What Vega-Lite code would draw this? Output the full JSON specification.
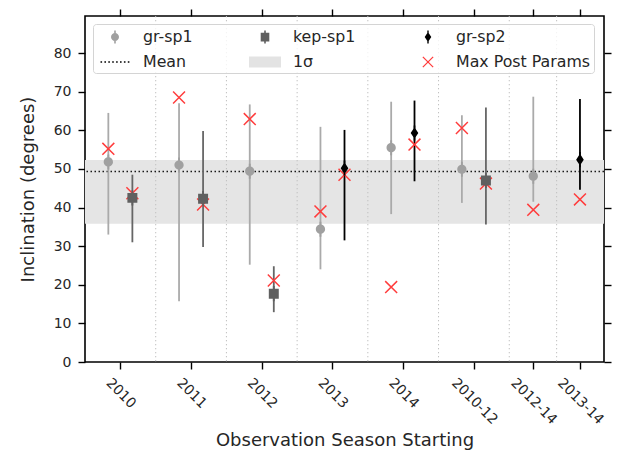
{
  "$schema": "https://vega.github.io/schema/vega-lite/v6.json",
  "width": 519,
  "height": 346,
  "autosize": {"type": "none"},
  "padding": {"left": 85, "top": 16, "right": 13, "bottom": 92},
  "background": "white",
  "config": {
    "view": {"stroke": "#000", "strokeWidth": 1.6},
    "font": "DejaVu Sans",
    "axis": {
      "domain": false, "grid": false, "tickColor": "#000", "tickWidth": 1.4, "tickSize": 7,
      "labelFont": "DejaVu Sans", "labelFontSize": 14, "labelColor": "#262626",
      "labelFlush": false, "labelOverlap": false,
      "titleFont": "DejaVu Sans", "titleFontSize": 18, "titleFontWeight": "normal", "titleColor": "#262626"
    },
    "legend": {
      "orient": "none", "legendX": 8, "legendY": 8, "columns": 3, "title": null,
      "symbolSize": 400, "symbolStrokeWidth": 0, "symbolOffset": 9, "labelOffset": 18,
      "labelFont": "DejaVu Sans", "labelFontSize": 15.8, "labelColor": "#262626",
      "columnPadding": 53, "rowPadding": 7, "padding": 3,
      "fillColor": "rgba(255,255,255,0.8)", "strokeColor": "#d4d4d4", "cornerRadius": 3
    }
  },
  "datasets": {
    "pts": [
      {"series": "gr-sp1", "season": "2010", "x": -0.17, "y": 51.8, "lo": 33.0, "hi": 64.5},
      {"series": "gr-sp1", "season": "2011", "x": 0.83, "y": 51.0, "lo": 15.7, "hi": 67.0},
      {"series": "gr-sp1", "season": "2012", "x": 1.83, "y": 49.4, "lo": 25.2, "hi": 66.7},
      {"series": "gr-sp1", "season": "2013", "x": 2.83, "y": 34.4, "lo": 24.0, "hi": 60.9},
      {"series": "gr-sp1", "season": "2014", "x": 3.83, "y": 55.5, "lo": 38.3, "hi": 67.4},
      {"series": "gr-sp1", "season": "2010-12", "x": 4.83, "y": 49.9, "lo": 41.2, "hi": 63.9},
      {"series": "gr-sp1", "season": "2012-14", "x": 5.84, "y": 48.1, "lo": 41.5, "hi": 68.7},
      {"series": "kep-sp1", "season": "2010", "x": 0.17, "y": 42.5, "lo": 31.0, "hi": 48.5},
      {"series": "kep-sp1", "season": "2011", "x": 1.17, "y": 42.3, "lo": 29.8, "hi": 59.8},
      {"series": "kep-sp1", "season": "2012", "x": 2.17, "y": 17.7, "lo": 12.9, "hi": 24.8},
      {"series": "kep-sp1", "season": "2010-12", "x": 5.17, "y": 47.0, "lo": 35.6, "hi": 65.9},
      {"series": "gr-sp2", "season": "2013", "x": 3.17, "y": 50.2, "lo": 31.5, "hi": 60.1},
      {"series": "gr-sp2", "season": "2014", "x": 4.16, "y": 59.3, "lo": 46.8, "hi": 67.7},
      {"series": "gr-sp2", "season": "2013-14", "x": 6.5, "y": 52.4, "lo": 44.6, "hi": 68.1}
    ],
    "mp": [
      {"series": "Max Post Params", "season": "2010", "x": -0.17, "y": 55.2},
      {"series": "Max Post Params", "season": "2011", "x": 0.83, "y": 68.5},
      {"series": "Max Post Params", "season": "2012", "x": 1.83, "y": 62.9},
      {"series": "Max Post Params", "season": "2013", "x": 2.83, "y": 39.0},
      {"series": "Max Post Params", "season": "2014", "x": 3.83, "y": 19.4},
      {"series": "Max Post Params", "season": "2010-12", "x": 4.83, "y": 60.6},
      {"series": "Max Post Params", "season": "2012-14", "x": 5.84, "y": 39.4},
      {"series": "Max Post Params", "season": "2010", "x": 0.17, "y": 43.7},
      {"series": "Max Post Params", "season": "2011", "x": 1.17, "y": 40.8},
      {"series": "Max Post Params", "season": "2012", "x": 2.17, "y": 21.1},
      {"series": "Max Post Params", "season": "2010-12", "x": 5.17, "y": 46.2},
      {"series": "Max Post Params", "season": "2013", "x": 3.17, "y": 48.5},
      {"series": "Max Post Params", "season": "2014", "x": 4.16, "y": 56.3},
      {"series": "Max Post Params", "season": "2013-14", "x": 6.5, "y": 42.1}
    ],
    "seps": [{"x": 0.5}, {"x": 1.5}, {"x": 2.5}, {"x": 3.5}, {"x": 4.5}, {"x": 5.5}, {"x": 6.17}],
    "stats": [{"mean": 49.3, "lo": 35.8, "hi": 52.3}]
  },
  "layer": [
    {
      "data": {"name": "stats"},
      "mark": {"type": "rect", "color": "#e5e5e5"},
      "encoding": {
        "y": {"field": "lo", "type": "quantitative", "scale": {"domain": [0, 89.6], "nice": false, "zero": false}, "axis": null},
        "y2": {"field": "hi"}
      }
    },
    {
      "data": {"name": "seps"},
      "mark": {"type": "rule", "color": "#c0c0c0", "strokeDash": [1.3, 2.7], "strokeWidth": 1},
      "encoding": {
        "x": {"field": "x", "type": "quantitative", "scale": {"domain": [-0.5, 6.84], "nice": false, "zero": false},
          "axis": {"orient": "top", "values": [0, 1, 2, 3, 4, 5, 5.84, 6.5], "labels": false, "title": null}}
      }
    },
    {
      "data": {"name": "stats"},
      "mark": {"type": "rule", "color": "#1a1a1a", "strokeDash": [1.5, 2.5], "strokeWidth": 1.5},
      "encoding": {
        "y": {"field": "mean", "type": "quantitative", "scale": {"domain": [0, 89.6], "nice": false, "zero": false},
          "axis": {"orient": "right", "values": [0, 10, 20, 30, 40, 50, 60, 70, 80], "labels": false, "title": null}}
      }
    },
    {
      "data": {"name": "pts"},
      "mark": {"type": "rule", "strokeWidth": 1.8},
      "encoding": {
        "x": {"field": "x", "type": "quantitative", "scale": {"domain": [-0.5, 6.84], "nice": false, "zero": false},
          "axis": {"orient": "bottom", "values": [0, 1, 2, 3, 4],
            "labelExpr": "datum.value < 0.5 ? '2010' : datum.value < 1.5 ? '2011' : datum.value < 2.5 ? '2012' : datum.value < 3.5 ? '2013' : '2014'",
            "labelAngle": 45, "labelAlign": "center", "labelBaseline": "middle", "labelPadding": 24,
            "title": "Observation Season Starting", "titlePadding": 21}},
        "y": {"field": "lo", "type": "quantitative", "scale": {"domain": [0, 89.6], "nice": false, "zero": false},
          "axis": {"orient": "left", "values": [0, 10, 20, 30, 40, 50, 60, 70, 80], "labelPadding": 7,
            "title": "Inclination (degrees)", "titlePadding": 16}},
        "y2": {"field": "hi"},
        "color": {"condition": [
          {"test": "datum.series === 'gr-sp1'", "value": "#aaaaaa"},
          {"test": "datum.series === 'kep-sp1'", "value": "#666666"}], "value": "#000000"}
      }
    },
    {
      "data": {"name": "mp"},
      "mark": {"type": "point", "filled": true, "size": 537, "strokeWidth": 0, "opacity": 1},
      "encoding": {
        "x": {"field": "x", "type": "quantitative", "scale": {"domain": [-0.5, 6.84], "nice": false, "zero": false},
          "axis": {"orient": "bottom", "values": [5, 5.84, 6.5],
            "labelExpr": "datum.value < 5.5 ? '2010-12' : datum.value < 6.2 ? '2012-14' : '2013-14'",
            "labelAngle": 45, "labelAlign": "center", "labelBaseline": "middle", "labelPadding": 32, "title": null}},
        "y": {"field": "y", "type": "quantitative", "scale": {"domain": [0, 89.6], "nice": false, "zero": false}, "axis": null},
        "shape": {"field": "series", "type": "nominal",
          "scale": {"domain": ["gr-sp1", "Mean", "kep-sp1", "1σ", "gr-sp2", "Max Post Params"],
            "range": [
              "M-0.08,-0.65H0.08V0.65H-0.08Z M0.4,0A0.4,0.4 0 1,1 -0.4,0A0.4,0.4 0 1,1 0.4,0Z",
              "M-1.45,-0.08h0.16v0.16h-0.16Z M-1.06,-0.08h0.16v0.16h-0.16Z M-0.67,-0.08h0.16v0.16h-0.16Z M-0.28,-0.08h0.16v0.16h-0.16Z M0.11,-0.08h0.16v0.16h-0.16Z M0.5,-0.08h0.16v0.16h-0.16Z M0.89,-0.08h0.16v0.16h-0.16Z M1.28,-0.08h0.16v0.16h-0.16Z",
              "M-0.08,-0.65H0.08V0.65H-0.08Z M-0.43,-0.43H0.43V0.43H-0.43Z",
              "M-1.6,-0.55H1.6V0.55H-1.6Z",
              "M-0.07,-0.65H0.07V0.65H-0.07Z M0,-0.5L0.33,0L0,0.5L-0.33,0Z",
              "M-0.56,-0.47L-0.47,-0.56L0.56,0.47L0.47,0.56Z M-0.56,0.47L0.47,-0.56L0.56,-0.47L-0.47,0.56Z"
            ]},
          "legend": {}},
        "color": {"field": "series", "type": "nominal",
          "scale": {"domain": ["gr-sp1", "Mean", "kep-sp1", "1σ", "gr-sp2", "Max Post Params"],
            "range": ["#a0a0a0", "#000000", "#606060", "#e3e3e3", "#000000", "#ff3c3c"]},
          "legend": {}}
      }
    },
    {
      "data": {"name": "pts"},
      "mark": {"type": "point", "filled": true, "size": 537, "strokeWidth": 0, "opacity": 1},
      "encoding": {
        "x": {"field": "x", "type": "quantitative", "scale": {"domain": [-0.5, 6.84], "nice": false, "zero": false}, "axis": null},
        "y": {"field": "y", "type": "quantitative", "scale": {"domain": [0, 89.6], "nice": false, "zero": false}, "axis": null},
        "shape": {"field": "series", "type": "nominal",
          "scale": {"domain": ["gr-sp1", "Mean", "kep-sp1", "1σ", "gr-sp2", "Max Post Params"],
            "range": [
              "M-0.08,-0.65H0.08V0.65H-0.08Z M0.4,0A0.4,0.4 0 1,1 -0.4,0A0.4,0.4 0 1,1 0.4,0Z",
              "M-1.45,-0.08h0.16v0.16h-0.16Z M-1.06,-0.08h0.16v0.16h-0.16Z M-0.67,-0.08h0.16v0.16h-0.16Z M-0.28,-0.08h0.16v0.16h-0.16Z M0.11,-0.08h0.16v0.16h-0.16Z M0.5,-0.08h0.16v0.16h-0.16Z M0.89,-0.08h0.16v0.16h-0.16Z M1.28,-0.08h0.16v0.16h-0.16Z",
              "M-0.08,-0.65H0.08V0.65H-0.08Z M-0.43,-0.43H0.43V0.43H-0.43Z",
              "M-1.6,-0.55H1.6V0.55H-1.6Z",
              "M-0.07,-0.65H0.07V0.65H-0.07Z M0,-0.5L0.33,0L0,0.5L-0.33,0Z",
              "M-0.56,-0.47L-0.47,-0.56L0.56,0.47L0.47,0.56Z M-0.56,0.47L0.47,-0.56L0.56,-0.47L-0.47,0.56Z"
            ]},
          "legend": {}},
        "color": {"field": "series", "type": "nominal",
          "scale": {"domain": ["gr-sp1", "Mean", "kep-sp1", "1σ", "gr-sp2", "Max Post Params"],
            "range": ["#a0a0a0", "#000000", "#606060", "#e3e3e3", "#000000", "#ff3c3c"]},
          "legend": {}}
      }
    }
  ],
  "resolve": {"axis": {"x": "independent", "y": "independent"}}
}
